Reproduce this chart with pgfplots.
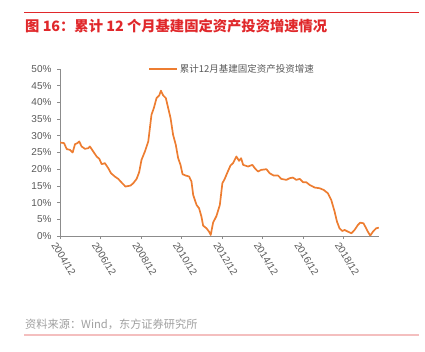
\documentclass[border=0pt]{standalone}
\usepackage{pgfplots}
\pgfplotsset{compat=1.18}
\usepackage{fontspec}
\setmainfont{Liberation Sans}
\newfontfamily\cjk{Noto Sans CJK SC}
\definecolor{lineorange}{HTML}{ED7D31}
\definecolor{titlered}{HTML}{E0282B}
\definecolor{axisgray}{HTML}{8C8C8C}
\definecolor{labelgray}{HTML}{595959}
\definecolor{srcgray}{HTML}{A0A0A0}
\definecolor{pinkline}{HTML}{F4BFBF}
\pgfplotstableread{
m v
0 28.0
2.4 27.8
4 26.0
5.9 25.8
7.5 25.0
8.9 27.5
10.3 27.8
11.4 28.3
12.8 26.8
14.8 26.1
16.8 26.3
17.7 26.8
19.7 25.3
21.7 23.8
23.3 23.1
24.7 21.5
26.6 21.8
28.6 20.3
30.2 18.8
32.5 17.8
34.5 17.1
36.5 16.0
38.8 14.8
41.8 15.1
43.4 15.8
45.4 17.1
46.9 19.1
48.3 22.8
50.3 25.3
52.3 28.3
54.2 36.3
55.6 38.3
57.2 41.3
58.8 42.1
59.8 43.5
61.1 42.1
62.7 41.3
64.1 38.3
65.5 35.3
67 30.3
68.6 27.3
70 23.3
71.4 21.3
72.6 18.5
74.5 18.1
76.5 17.8
77.9 16.3
78.9 12.3
80.9 9.3
82.4 8.3
83.8 5.8
84.8 3.1
86.8 2.3
88.3 1.3
89.3 0.3
90.7 4.0
92.7 6.0
94.7 9.3
96.2 15.8
97.6 17.1
99 18.8
101 21.1
102.5 21.8
104.5 23.8
106.1 22.5
107.3 23.3
108.5 21.3
111.4 20.8
114 21.3
115.4 20.3
117.3 19.3
119.3 19.8
122.3 20.0
124.2 18.8
126.6 18.1
129.2 18.1
131.1 17.1
134.1 16.8
136.1 17.3
138 17.5
140 16.8
142 17.1
144 16.1
145.9 16.1
147.9 15.3
150.9 14.5
153.8 14.3
156.2 13.8
158.7 12.8
160.7 10.8
162.7 7.3
164.1 4.3
165.6 2.3
167.2 1.5
168.6 1.8
170.6 1.3
172.6 0.8
174.5 1.8
176.5 3.3
177.9 4.0
179.8 3.8
181.4 2.3
182.4 1.3
183.8 0.1
185.4 1.3
187.3 2.3
188.9 2.5
}\datatable
\begin{document}
\begin{tikzpicture}[x=1pt,y=1pt]
\useasboundingbox (0,0) rectangle (425,352);
\draw[titlered, line width=0.8pt] (24,340) -- (419,340);
\node[anchor=west, inner sep=0pt, text=titlered, font=\cjk\bfseries\fontsize{14.3}{16}\selectfont] at (25,326) {图 16：累计 12 个月基建固定资产投资增速情况};
\begin{axis}[
  scale only axis, width=319pt, height=167pt,
  at={(60pt,116pt)}, anchor=south west,
  xmin=0, xmax=189, ymin=0, ymax=50,
  axis lines*=left,
  axis line style={-, axisgray, line width=0.6pt},
  every outer x axis line/.append style={-},
  every outer y axis line/.append style={-},
  xtick={0,24,...,168},
  xticklabels={2004/12,2006/12,2008/12,2010/12,2012/12,2014/12,2016/12,2018/12},
  ytick={0,5,...,50},
  yticklabel={\pgfmathprintnumber{\tick}\%},
  /pgf/number format/assume math mode=true,
  tick style={axisgray, line width=0.6pt},
  major tick length=3pt, tick align=outside,
  ticklabel style={font=\fontsize{10}{12}\selectfont, text=labelgray},
  yticklabel style={xshift=-2pt},
  xticklabel style={rotate=-58, anchor=north west, xshift=-3pt},
  legend style={draw=none, fill=none, at={(0.276,1.0)}, anchor=west, inner sep=0pt,
    font=\cjk\fontsize{9.5}{11}\selectfont, text=labelgray},
  legend cell align=left,
  legend image code/.code={\draw[#1] (0pt,0pt) -- (28pt,0pt);},
]
\addplot[lineorange, line width=1.7pt, line join=round] table[x=m, y=v] {\datatable};
\addlegendentry{累计12月基建固定资产投资增速}
\end{axis}
\node[anchor=west, inner sep=0pt, text=srcgray, font=\cjk\fontsize{11.2}{13}\selectfont] at (25,28) {资料来源：Wind，东方证券研究所};
\draw[pinkline, line width=1.2pt] (24,17) -- (419,17);
\end{tikzpicture}
\end{document}
